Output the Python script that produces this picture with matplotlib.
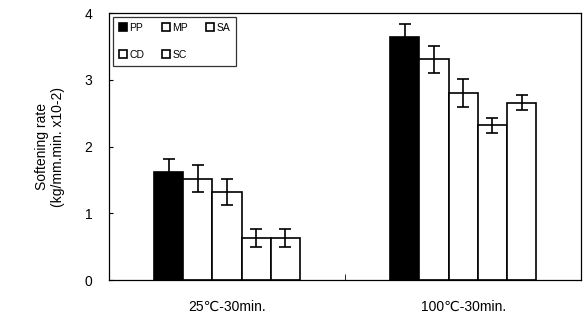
import numpy as np
import matplotlib
matplotlib.use("Agg")
import matplotlib.pyplot as plt

plt.rcParams['font.family'] = ['Liberation Sans', 'DejaVu Sans']

conditions = ['25℃-30min.', '100℃-30min.']
samples = ['PP', 'MP', 'SA', 'CD', 'SC']
rate = {
    'PP': [1.62, 3.64],
    'MP': [1.52, 3.31],
    'SA': [1.32, 2.81],
    'CD': [0.63, 2.32],
    'SC': [0.63, 2.66],
}
err = {
    'PP': [0.20, 0.19],
    'MP': [0.20, 0.20],
    'SA': [0.20, 0.21],
    'CD': [0.13, 0.11],
    'SC': [0.13, 0.11],
}
colors = ['black', 'white', 'white', 'white', 'white']

fig = plt.figure(figsize=(5.83, 3.2), dpi=100)
ax = fig.add_axes([0.187, 0.125, 0.81, 0.834])

x = np.arange(len(conditions))
w = 0.1235
handles = {}
for i, s in enumerate(samples):
    pos = x + (i - 2) * w
    handles[s] = ax.bar(pos, rate[s], w, color=colors[i], edgecolor='black',
                        linewidth=1.2, label=s, zorder=2)
    ax.errorbar(pos, rate[s], yerr=err[s], fmt='none', ecolor='black',
                elinewidth=1.2, capsize=4, capthick=1.2, zorder=3)

ax.set_xlim(-0.5, 1.5)
ax.set_ylim(0, 4)
ax.set_yticks([0, 1, 2, 3, 4])
ax.set_xticks(x)
ax.set_xticklabels(conditions, fontsize=10)
ax.set_xticks([0.5], minor=True)
ax.tick_params(axis='x', which='major', length=0, pad=14)
ax.tick_params(axis='x', which='minor', direction='in', length=4)
ax.tick_params(axis='y', direction='in', length=3, labelsize=10, pad=12)
for sp in ax.spines.values():
    sp.set_linewidth(0.9)

ax.set_ylabel('Softening rate\n(kg/mm.min. x10-2)', fontsize=10, labelpad=14)

# row-wise legend: PP MP SA / CD SC
order = ['PP', 'CD', 'MP', 'SC', 'SA']
leg = ax.legend([handles[s] for s in order], order, ncol=3, loc='upper left',
                fontsize=7.5, frameon=True, fancybox=False, edgecolor='black',
                handlelength=0.8, handleheight=0.8, handletextpad=0.2,
                columnspacing=1.7, borderpad=0.6, labelspacing=1.6,
                borderaxespad=0.35)
leg.get_frame().set_linewidth(0.9)

fig.savefig('out.png', dpi=100)
